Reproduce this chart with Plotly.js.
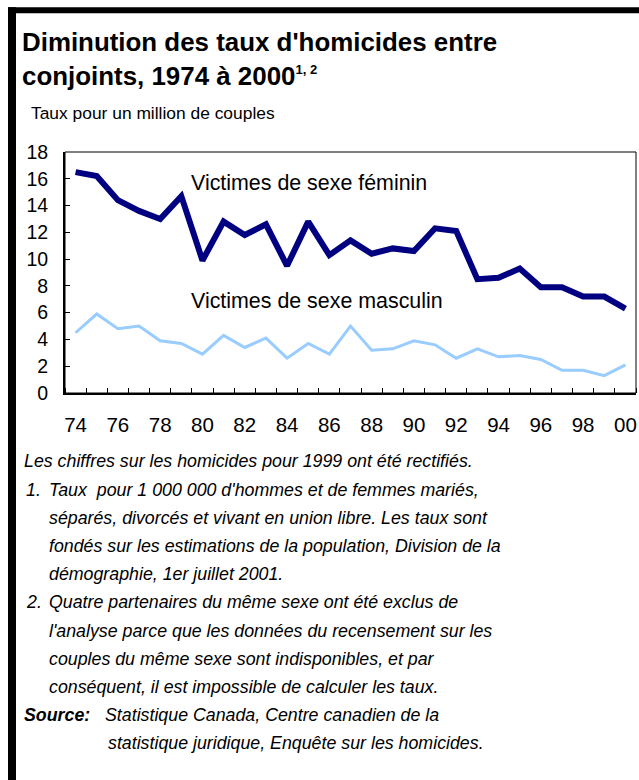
<!DOCTYPE html>
<html>
<head>
<meta charset="utf-8">
<script src="https://cdn.plot.ly/plotly-3.0.1.min.js"></script>
<style>
html,body{margin:0;padding:0;background:#fff;}
#chart{width:639px;height:780px;}
</style>
</head>
<body>
<div id="chart"></div>
<script>
// ---- data ----
const years = [1974,1975,1976,1977,1978,1979,1980,1981,1982,1983,1984,1985,1986,1987,1988,1989,1990,1991,1992,1993,1994,1995,1996,1997,1998,1999,2000];
const femaleVictims = [16.5,16.2,14.4,13.6,13.0,14.7,9.9,12.8,11.8,12.6,9.5,12.8,10.3,11.4,10.4,10.8,10.6,12.3,12.1,8.5,8.6,9.3,7.9,7.9,7.2,7.2,6.3];
const maleVictims = [4.5,5.9,4.8,5.0,3.9,3.7,2.9,4.3,3.4,4.1,2.6,3.7,2.9,5.0,3.2,3.3,3.9,3.6,2.6,3.3,2.7,2.8,2.5,1.7,1.7,1.3,2.1];
const xTickVals = [1974,1976,1978,1980,1982,1984,1986,1988,1990,1992,1994,1996,1998,2000];
const xTickText = ["74","76","78","80","82","84","86","88","90","92","94","96","98","00"];
const seriesNames = ["Victimes de sexe féminin","Victimes de sexe masculin"];
const titleLines = ["Diminution des taux d'homicides entre","conjoints, 1974 à 2000"];
const titleNoteRefs = "1, 2";
const yAxisLabel = "Taux pour un million de couples";
const noteLines = [
  "Les chiffres sur les homicides pour 1999 ont été rectifiés.",
  "Taux  pour 1 000 000 d'hommes et de femmes mariés,",
  "séparés, divorcés et vivant en union libre. Les taux sont",
  "fondés sur les estimations de la population, Division de la",
  "démographie, 1er juillet 2001.",
  "Quatre partenaires du même sexe ont été exclus de",
  "l'analyse parce que les données du recensement sur les",
  "couples du même sexe sont indisponibles, et par",
  "conséquent, il est impossible de calculer les taux."
];
const noteNumbers = ["1.","2."];
const sourceLabel = "Source:";
const sourceLines = ["Statistique Canada, Centre canadien de la","statistique juridique, Enquête sur les homicides."];

// ---- layout helpers (pixel -> paper) ----
const L = 65, R = 636, T = 151.7, B = 392.7;
const W = 639, H = 780;
const px = x => (x - L) / (R - L);
const py = y => (B - y) / (B - T);
const FONT = '"Liberation Sans", Arial, sans-serif';

const traces = [
  {x: years, y: femaleVictims, name: seriesNames[0], type: 'scatter', mode: 'lines',
   line: {color: '#000080', width: 6}},
  {x: years, y: maleVictims, name: seriesNames[1], type: 'scatter', mode: 'lines',
   line: {color: '#99ccff', width: 3}}
];

const ann = [];
function txt(text, x, y, size, opts) {
  ann.push(Object.assign({text: text, xref: 'paper', yref: 'paper', x: px(x), y: py(y),
    xanchor: 'left', yanchor: 'middle', showarrow: false,
    font: {family: FONT, size: size, color: '#000'}}, opts || {}));
}
txt('<b>' + titleLines[0] + '</b>', 20, 42, 25.9);
txt('<b>' + titleLines[1] + '<sup><span style="font-size:13px">' + titleNoteRefs + '</span></sup></b>', 20, 76, 25.9);
txt(yAxisLabel, 29, 113, 17.4);
txt(seriesNames[0], 189, 183, 21.4);
txt(seriesNames[1], 189, 301, 21.4);

const noteY0 = 461, step = 28.2, NS = 17.8;
txt('<i>' + noteLines[0] + '</i>', 22, noteY0, NS);
txt('<i>' + noteNumbers[0] + '</i>', 24, noteY0 + step, NS);
for (let i = 1; i <= 4; i++) txt('<i>' + noteLines[i] + '</i>', 47, noteY0 + step * i, NS);
txt('<i>' + noteNumbers[1] + '</i>', 24, noteY0 + step * 5, NS);
for (let i = 5; i <= 8; i++) txt('<i>' + noteLines[i] + '</i>', 47, noteY0 + step * i, NS);
txt('<b><i>' + sourceLabel + '</i></b>', 22, noteY0 + step * 9, NS);
txt('<i>' + sourceLines[0] + '</i>', 103, noteY0 + step * 9, NS);
txt('<i>' + sourceLines[1] + '</i>', 106, noteY0 + step * 10, NS);

const shapes = [
  {type: 'rect', xref: 'paper', yref: 'paper', x0: 0, x1: 1, y0: 0, y1: 1,
   line: {color: '#000', width: 1}},
  {type: 'rect', xref: 'paper', yref: 'paper', x0: px(8), x1: px(16), y0: py(7), y1: py(H + 5),
   fillcolor: '#000', line: {width: 0}},
  {type: 'rect', xref: 'paper', yref: 'paper', x0: px(8), x1: px(W + 5), y0: py(7), y1: py(13),
   fillcolor: '#000', line: {width: 0}}
];

const layout = {
  width: W, height: H,
  margin: {l: L, r: W - R, t: T, b: H - B, pad: 0},
  paper_bgcolor: '#fff', plot_bgcolor: '#fff',
  showlegend: false,
  font: {family: FONT, size: 19, color: '#000'},
  xaxis: {
    type: 'linear', range: [1973.5, 2000.5], fixedrange: true,
    tickmode: 'array', tickvals: xTickVals, ticktext: xTickText,
    ticks: '', showgrid: false, zeroline: false,
    showline: true, linecolor: '#000', linewidth: 2,
    ticklabelstandoff: 12,
    tickfont: {family: FONT, size: 20.5, color: '#000'},
    minor: {tick0: 1973.5, dtick: 1, ticks: 'inside', ticklen: 5, tickwidth: 1, tickcolor: '#000', showgrid: false}
  },
  yaxis: {
    range: [0, 18], dtick: 2, tick0: 0, fixedrange: true,
    ticks: 'inside', ticklen: 5, tickwidth: 1, tickcolor: '#000',
    showgrid: false, zeroline: false,
    showline: true, linecolor: '#000', linewidth: 2,
    ticklabelstandoff: 11,
    tickfont: {family: FONT, size: 19.5, color: '#000'}
  },
  annotations: ann,
  shapes: shapes
};

Plotly.newPlot('chart', traces, layout, {staticPlot: true, displayModeBar: false});
</script>
</body>
</html>
